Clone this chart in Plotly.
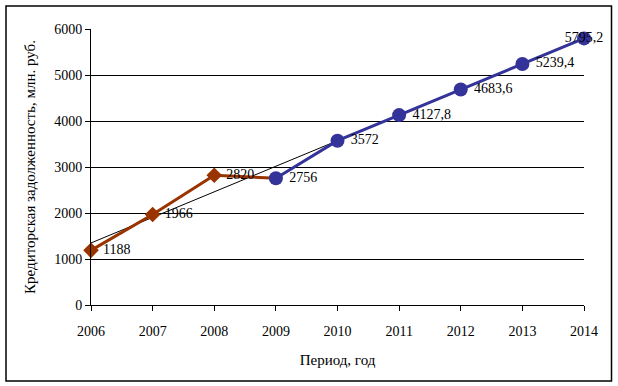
import numpy as np
import plotly.graph_objects as go

years_actual = [2006, 2007, 2008, 2009]
values_actual = [1188, 1966, 2820, 2756]
years_forecast = [2009, 2010, 2011, 2012, 2013, 2014]
values_forecast = [2756, 3572, 4127.8, 4683.6, 5239.4, 5795.2]
labels_actual = ["1188", "1966", "2820", ""]
labels_forecast = ["2756", "3572", "4127,8", "4683,6", "5239,4", "5795,2"]
y_ticks = [0, 1000, 2000, 3000, 4000, 5000, 6000]
x_ticks = [2006, 2007, 2008, 2009, 2010, 2011, 2012, 2013, 2014]

FONT = "Liberation Serif"
W, H = 618, 386
L, R, T, B = 91, 34, 29, 81

# linear trend across all observed + forecast points
all_years = years_actual + years_forecast[1:]
all_vals = values_actual + values_forecast[1:]
k, b0 = np.polyfit(all_years, all_vals, 1)
trend_x = [all_years[0], all_years[-1]]
trend_y = [k * x + b0 for x in trend_x]

fig = go.Figure()
fig.add_trace(go.Scatter(
    x=trend_x, y=trend_y, mode="lines",
    line=dict(color="black", width=1), hoverinfo="skip", showlegend=False))
# brown line over all actual years
fig.add_trace(go.Scatter(
    x=years_actual, y=values_actual, mode="lines",
    line=dict(color="#993300", width=3), showlegend=False))
# brown diamonds + labels (the 2009 point is covered by the forecast marker)
fig.add_trace(go.Scatter(
    x=years_actual[:-1], y=values_actual[:-1], mode="markers+text",
    marker=dict(symbol="diamond", size=12, color="#993300"),
    text=[" " + t for t in labels_actual[:-1]], textposition="middle right",
    textfont=dict(family=FONT, size=14, color="black"),
    cliponaxis=False, showlegend=False))
fig.add_trace(go.Scatter(
    x=years_forecast, y=values_forecast, mode="lines+markers+text",
    line=dict(color="#333399", width=3),
    marker=dict(symbol="circle", size=14, color="#333399"),
    text=[" " + t for t in labels_forecast[:-1]] + [labels_forecast[-1]],
    textposition=["middle right"] * 5 + ["middle center"],
    textfont=dict(family=FONT, size=14, color="black"),
    cliponaxis=False, showlegend=False))

pw = W - L - R
ph = H - T - B
fig.add_shape(type="rect", xref="paper", yref="paper",
              x0=(6 - L) / pw, x1=(611.5 - L) / pw,
              y0=-(381 - (H - B)) / ph, y1=((H - B) - 6) / ph,
              line=dict(color="black", width=1.5), layer="below")

fig.update_layout(
    width=W, height=H, margin=dict(l=L, r=R, t=T, b=B),
    paper_bgcolor="white", plot_bgcolor="white",
    font=dict(family=FONT, size=14, color="black"),
    hovermode=False,
    xaxis=dict(range=[2006, 2014], tickvals=x_ticks, showgrid=False,
               showline=True, linecolor="black", linewidth=1,
               ticks="outside", ticklen=5, tickcolor="black",
               ticklabelstandoff=8, zeroline=False,
               title=dict(text="Период, год", standoff=16,
                          font=dict(family=FONT, size=15))),
    yaxis=dict(range=[0, 6000], tickvals=y_ticks, showgrid=True,
               gridcolor="black", gridwidth=1,
               showline=True, linecolor="black", linewidth=1,
               ticks="outside", ticklen=5, tickcolor="black",
               zeroline=False,
               title=dict(text="Кредиторская задолженность, млн. руб.", standoff=14,
                          font=dict(family=FONT, size=15))),
)
fig.write_html("out.html", config={"displayModeBar": False, "staticPlot": True},
               post_script="document.body.style.margin='0';")
